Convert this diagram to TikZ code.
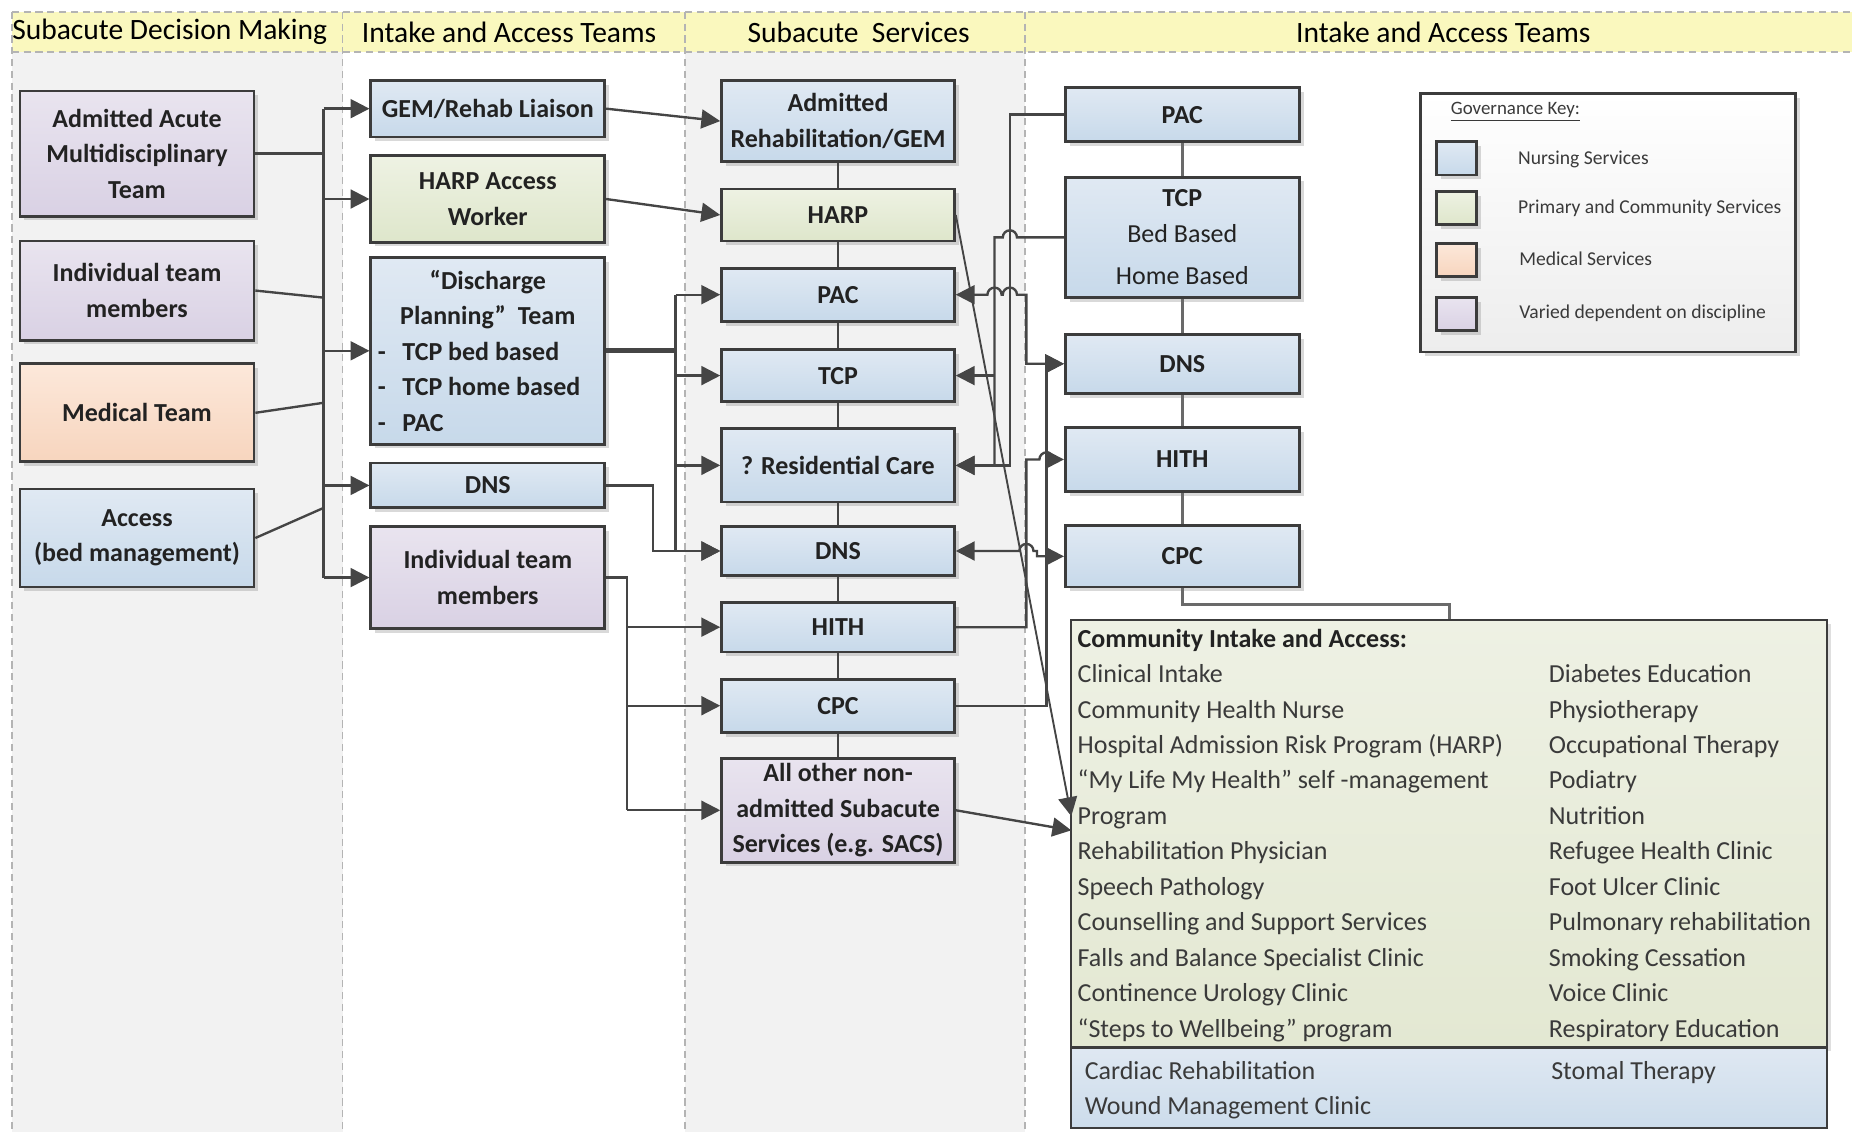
\documentclass[tikz,border=0pt]{standalone}
\usepackage{fontspec}
\setmainfont{Carlito}
\usetikzlibrary{arrows.meta,shadows}
\definecolor{hdrY}{HTML}{FAF8BE}
\definecolor{colG}{HTML}{F2F2F2}
\definecolor{dashG}{HTML}{B4B4B4}
\definecolor{edge}{HTML}{3C3C3C}
\definecolor{lineC}{HTML}{454545}
\definecolor{spineC}{HTML}{6A6A6A}
\definecolor{txt}{HTML}{222222}
\definecolor{ctxt}{HTML}{3A3A3A}
\definecolor{blueT}{HTML}{E0E9F3}
\definecolor{blueB}{HTML}{C7D9EA}
\definecolor{purT}{HTML}{E9E4EF}
\definecolor{purB}{HTML}{D9D1E4}
\definecolor{peaT}{HTML}{FCE8DA}
\definecolor{peaB}{HTML}{F7D5BE}
\definecolor{grnT}{HTML}{EEF2E3}
\definecolor{grnB}{HTML}{DEE6CB}
\definecolor{cgT}{HTML}{EEF1E4}
\definecolor{cgB}{HTML}{E3E8D2}
\definecolor{cbT}{HTML}{DFE8F2}
\definecolor{cbB}{HTML}{CCDCEB}
\begin{document}
\begin{tikzpicture}[x=0.5pt,y=-0.5pt,
  font=\fontsize{11}{15}\selectfont,
  line/.style={draw=lineC, line width=1pt},
  arr/.style={line, -{Triangle[length=8pt,width=8pt]}},
  darr/.style={line, {Triangle[length=8pt,width=8pt]}-{Triangle[length=8pt,width=8pt]}},
  spine4/.style={draw=spineC, line width=1.1pt},
  box/.style={draw=edge, line width=1.2pt, text=txt,
    font=\fontsize{11}{15}\selectfont\bfseries, align=center, inner sep=1pt,
    drop shadow={shadow xshift=1.8pt, shadow yshift=-1.8pt, opacity=0.3}},
  nurse/.style={box, top color=blueT, bottom color=blueB},
  varied/.style={box, top color=purT, bottom color=purB},
  medical/.style={box, top color=peaT, bottom color=peaB},
  primary/.style={box, top color=grnT, bottom color=grnB},
  wA/.style={minimum width=99pt},
  wC/.style={minimum width=98.5pt},
  hdr/.style={font=\fontsize{12.5}{15}\selectfont, inner sep=0pt, text=black},
  ctext/.style={anchor=base west, inner sep=0pt, text=ctxt, font=\fontsize{11}{15}\selectfont},
  ktext/.style={anchor=base west, inner sep=0pt, text=ctxt, font=\fontsize{8.3}{10}\selectfont},
  swatch/.style={minimum width=17pt, minimum height=14pt, line width=1.1pt},
]
\useasboundingbox (0,0) rectangle (1568,958);
% column backgrounds
\fill[colG] (10,44) rectangle (290,958);
\fill[colG] (580,44) rectangle (868,958);
\fill[hdrY] (10,10) rectangle (1568,44);
\begin{scope}[draw=dashG, line width=0.8pt, dash pattern=on 3pt off 2pt]
\draw (10,10) -- (1568,10);
\draw (10,44) -- (1568,44);
\foreach \xx in {10,290,580,868} \draw (\xx,10) -- (\xx,958);
\end{scope}
% headers
\node[hdr, anchor=west] (h1) at (10,27) {Subacute Decision Making};
\node[hdr] (h2) at (431,27) {Intake and Access Teams};
\node[hdr] (h3) at (727,27) {Subacute\ \ Services};
\node[hdr] (h4) at (1222,27) {Intake and Access Teams};

% column 1
\node[varied, wA, minimum height=53pt] (A1) at (116,130) {Admitted Acute\\Multidisciplinary\\Team};
\node[varied, wA, minimum height=42pt] (A2) at (116,246) {Individual team\\members};
\node[medical, wA, minimum height=41.5pt] (A3) at (116,349.5) {Medical Team};
\node[nurse, wA, minimum height=41.5pt] (A4) at (116,455.5) {Access\\(bed management)};

% column 2
\node[nurse, wA, minimum height=24pt] (B1) at (413,92) {GEM/Rehab Liaison};
\node[primary, wA, minimum height=36.5pt] (B2) at (413,168.5) {HARP Access\\Worker};
\node[nurse, wA, minimum height=79pt] (B3) at (413,297) {“Discharge\\Planning”\ \ Team\\\makebox[93pt][l]{-\hspace{7pt}TCP bed based}\\\makebox[93pt][l]{-\hspace{7pt}TCP home based}\\\makebox[93pt][l]{-\hspace{7pt}PAC}};
\node[nurse, wA, minimum height=19pt] (B4) at (413,411) {DNS};
\node[varied, wA, minimum height=43pt] (B5) at (413,489) {Individual team\\members};

% column 3
\node[nurse, wC, minimum height=34.5pt] (C1) at (709.5,102.5) {Admitted\\Rehabilitation/GEM};
\node[primary, wC, minimum height=22pt] (C2) at (709.5,182) {HARP};
\node[nurse, wC, minimum height=22.5pt] (C3) at (709.5,249.5) {PAC};
\node[nurse, wC, minimum height=22pt] (C4) at (709.5,318) {TCP};
\node[nurse, wC, minimum height=31pt] (C5) at (709.5,394) {? Residential Care};
\node[nurse, wC, minimum height=20.5pt] (C6) at (709.5,466.5) {DNS};
\node[nurse, wC, minimum height=21pt] (C7) at (709.5,531) {HITH};
\node[nurse, wC, minimum height=22.5pt] (C8) at (709.5,597.5) {CPC};
\node[varied, wC, minimum height=44pt] (C9) at (709.5,686) {All other non-\\admitted Subacute\\Services (e.g. SACS)};

% column 4
\node[nurse, wA, minimum height=23pt] (D1) at (1001,97) {PAC};
\node[nurse, wA, minimum height=51pt] (D2) at (1001,201) {TCP\\{\mdseries Bed Based}\\[3pt]{\mdseries Home Based}};
\node[nurse, wA, minimum height=25pt] (D3) at (1001,308) {DNS};
\node[nurse, wA, minimum height=27pt] (D4) at (1001,389) {HITH};
\node[nurse, wA, minimum height=26pt] (D5) at (1001,471) {CPC};

% legend
\node[draw=edge, line width=1.2pt, top color=white, bottom color=black!7,
  minimum width=158.5pt, minimum height=109.5pt, inner sep=0pt,
  drop shadow={shadow xshift=1.8pt, shadow yshift=-1.8pt, opacity=0.3}] (key) at (1361.5,188.5) {};
\node[ktext, font=\fontsize{8}{10}\selectfont] (keyt) at (1228,97) {\underline{Governance Key:}};
\node[nurse, swatch] (s1) at (1233,134) {};
\node[primary, swatch] (s2) at (1233,176) {};
\node[medical, swatch] (s3) at (1233,220) {};
\node[varied, swatch] (s4) at (1233,266) {};
\node[ktext] (k1) at (1285,139) {Nursing Services};
\node[ktext] (k2) at (1285,181) {Primary and Community Services};
\node[ktext] (k3) at (1286,225) {Medical Services};
\node[ktext] (k4) at (1286,270) {Varied dependent on discipline};

% community box
\node[draw=edge, line width=1pt, top color=cgT, bottom color=cgB,
  minimum width=320pt, minimum height=181pt, inner sep=0pt,
  drop shadow={shadow xshift=1.5pt, shadow yshift=-1.5pt, opacity=0.25}] (comm) at (1227,706) {};
\node[draw=edge, line width=1pt, top color=cbT, bottom color=cbB,
  minimum width=320pt, minimum height=34pt, inner sep=0pt] (commb) at (1227,921) {};
\node[ctext, font=\fontsize{11}{15}\selectfont\bfseries, text=txt] (Lt) at (912,548) {Community Intake and Access:};
\foreach \t [count=\i] in {Clinical Intake,Community Health Nurse,Hospital Admission Risk Program (HARP),“My Life My Health” self -management,Program,Rehabilitation Physician,Speech Pathology,Counselling and Support Services,Falls and Balance Specialist Clinic,Continence Urology Clinic,“Steps to Wellbeing” program}
  \node[ctext] (L\i) at (912,{548+30*\i}) {\t};
\foreach \t [count=\i] in {Diabetes Education,Physiotherapy,Occupational Therapy,Podiatry,Nutrition,Refugee Health Clinic,Foot Ulcer Clinic,Pulmonary rehabilitation,Smoking Cessation,Voice Clinic,Respiratory Education}
  \node[ctext] (R\i) at (1311,{548+30*\i}) {\t};
\node[ctext] (W1) at (918,914) {Cardiac Rehabilitation};
\node[ctext] (W2) at (918,944) {Wound Management Clinic};
\node[ctext] (W3) at (1313,914) {Stomal Therapy};

% ---- connectors ----
% spine column 3
\draw[line] (C1) -- (C2);
\draw[line] (C2) -- (C3);
\draw[line] (C3) -- (C4);
\draw[line] (C4) -- (C5);
\draw[line] (C5) -- (C6);
\draw[line] (C6) -- (C7);
\draw[line] (C7) -- (C8);
\draw[line] (C8) -- (C9);
% spine column 4
\draw[spine4] (D1) -- (D2);
\draw[spine4] (D2) -- (D3);
\draw[spine4] (D3) -- (D4);
\draw[spine4] (D4) -- (D5);
\coordinate (cj) at (1227,512);
\draw[spine4] (D5.south) |- (cj) -- (comm.north -| cj);

% bus from column 1
\coordinate (bus) at (274,0);
\draw[line] (bus |- B1.west) -- (bus |- B5.west);
\draw[line] (A1.east) -- (bus |- A1.east);
\coordinate (j2) at (274,252);
\coordinate (j3) at (274,341);
\coordinate (j4) at (274,430);
\draw[line] (A2.east) -- (j2);
\draw[line] (A3.east) -- (j3);
\draw[line] (A4.east) -- (j4);
\foreach \b in {B1,B2,B3,B4,B5} \draw[arr] (bus |- \b.west) -- (\b.west);

% column 2 -> column 3
\draw[arr] (B1.east) -- (C1.west);
\draw[arr] (B2.east) -- (C2.west);
\coordinate (dp) at (572,0);
\draw[line, line width=2pt] (B3.east) -- (dp |- B3.east);
\draw[line] (dp |- C3.west) -- (dp |- C6.west);
\foreach \c in {C3,C4,C5,C6} \draw[arr] (dp |- \c.west) -- (\c.west);
\coordinate (dn) at (553,0);
\draw[arr] (B4.east) -| (dn |- C6.west) -- (C6.west);
\coordinate (it) at (531,0);
\draw[line] (B5.east) -| (it |- C9.west);
\foreach \c in {C7,C8,C9} \draw[arr] (it |- \c.west) -- (\c.west);

% column 3 <-> column 4
\coordinate (v1) at (855,0);
\coordinate (v2) at (842,0);
\coordinate (v3) at (869,0);
\coordinate (v4) at (886,0);
\draw[arr] (D1.west) -| (v1 |- C5.east) -- (C5.east);
\draw[arr] (D2.west) -- (861,201) arc[start angle=0, end angle=180, radius=3pt] -- (v2 |- D2.west) -- (v2 |- C5.east) -- (C5.east);
\draw[arr] (v2 |- C4.east) -- (C4.east);
\draw[darr] (C3.east) -- (836,249.5) arc[start angle=180, end angle=0, radius=3pt] -- (849,249.5) arc[start angle=180, end angle=0, radius=3pt] -- (v3 |- C3.east) -- (v3 |- D3.west) -- (D3.west);
\draw[arr] (C7.east) -- (v3 |- C7.east) -- (v3 |- D4.west) -- (880,389) arc[start angle=180, end angle=0, radius=3pt] -- (D4.west);
\draw[arr] (C8.east) -- (v4 |- C8.east) -- (v4 |- D3.west) -- (D3.west);
\draw[darr] (C6.east) -- (863,466.5) arc[start angle=180, end angle=0, radius=3pt] -- (878,466.5) -- (878,471) -- (D5.west);
% to community box
\coordinate (ce1) at (907,691);
\coordinate (ce2) at (907,703);
\draw[arr, line width=0.8pt] (C2.east) -- (ce1);
\draw[arr] (C9.east) -- (ce2);
\end{tikzpicture}
\end{document}
